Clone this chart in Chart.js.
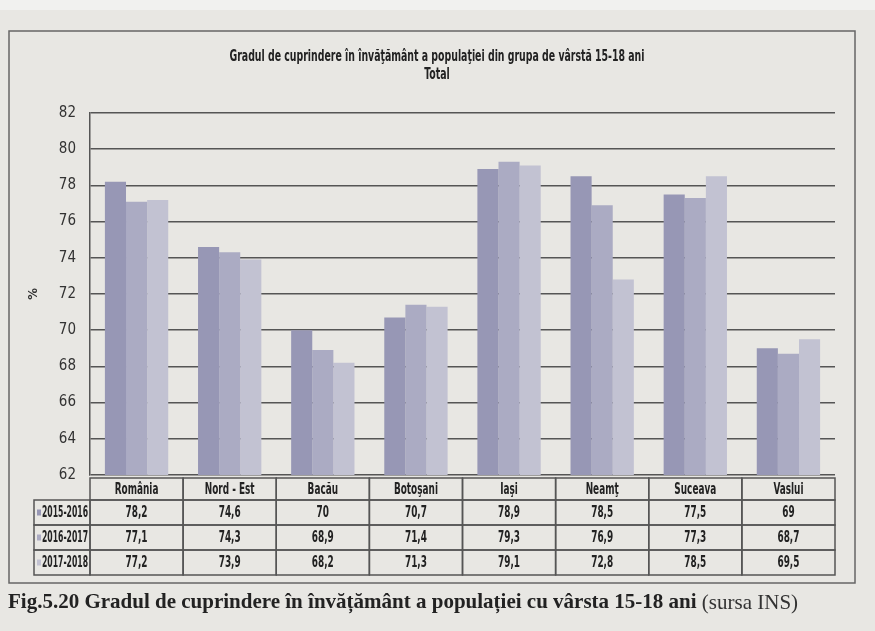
<!DOCTYPE html>
<html>
<head>
<meta charset="utf-8">
<script src="https://cdn.jsdelivr.net/npm/chart.js@4"></script>
<style>
  html, body { margin: 0; padding: 0; background: #e8e7e3; }
  #wrap { width: 875px; height: 631px; position: relative; }
</style>
</head>
<body>
<div id="wrap"><canvas id="chart" width="875" height="631"></canvas></div>
<script>
const categories = ["România", "Nord - Est", "Bacău", "Botoşani", "Iaşi", "Neamţ", "Suceava", "Vaslui"];
const seriesNames = ["2015-2016", "2016-2017", "2017-2018"];
const values2015 = [78.2, 74.6, 70, 70.7, 78.9, 78.5, 77.5, 69];
const values2016 = [77.1, 74.3, 68.9, 71.4, 79.3, 76.9, 77.3, 68.7];
const values2017 = [77.2, 73.9, 68.2, 71.3, 79.1, 72.8, 78.5, 69.5];
const seriesColors = ["#9797b5", "#ababc3", "#c2c2d2"];
const yTicks = [62, 64, 66, 68, 70, 72, 74, 76, 78, 80, 82];
const titleLines = ["Gradul de cuprindere în învăţământ a populaţiei din grupa de vârstă 15-18 ani", "Total"];

const narrow = "'DejaVu Sans Condensed', 'Liberation Sans', sans-serif";
const allValues = [values2015, values2016, values2017];

// text ingust (fontul Arial Narrow nu exista aici)
function narrowText(ctx, text, x, y, sx) {
  ctx.save();
  ctx.translate(x, y);
  ctx.scale(sx, 1);
  ctx.fillText(text, 0, 0);
  ctx.restore();
}

// fundal, chenar, titlu, tabel de date si legenda
const paperPlugin = {
  id: "paper",
  beforeDraw(chart) {
    const ctx = chart.ctx;
    ctx.save();
    ctx.fillStyle = "#e8e7e3";
    ctx.fillRect(0, 0, chart.width, chart.height);
    ctx.fillStyle = "#f1f1ef";
    ctx.fillRect(0, 0, chart.width, 10);
    ctx.strokeStyle = "#666";
    ctx.lineWidth = 1.5;
    ctx.strokeRect(9, 31, 846, 552);
    // titlu
    ctx.fillStyle = "#222";
    ctx.textAlign = "center";
    ctx.textBaseline = "middle";
    ctx.font = "bold 16px " + narrow;
    const w0 = ctx.measureText(titleLines[0]).width;
    const sx = 415 / w0;
    narrowText(ctx, titleLines[0], 437, 57, sx);
    narrowText(ctx, titleLines[1], 437, 75, sx);
    ctx.restore();
  },
  afterDraw(chart) {
    const ctx = chart.ctx;
    const x = chart.scales.x;
    const area = chart.chartArea;
    const n = categories.length;
    const colW = (area.right - area.left) / n;
    const top = area.bottom + 3;
    const headH = 22;
    const rowH = 25;
    const legLeft = 34;
    const sx = 0.66;
    ctx.save();
    ctx.strokeStyle = "#555";
    ctx.lineWidth = 1.5;
    ctx.fillStyle = "#222";
    ctx.textAlign = "center";
    ctx.textBaseline = "middle";
    ctx.font = "bold 15px " + narrow;
    // randul cu categorii
    for (let i = 0; i < n; i++) {
      const cx = x.getPixelForValue(i);
      ctx.strokeRect(cx - colW / 2, top, colW, headH);
      narrowText(ctx, categories[i], cx, top + headH / 2 + 1, sx);
    }
    // randurile cu valori
    for (let s = 0; s < seriesNames.length; s++) {
      const ry = top + headH + s * rowH;
      ctx.strokeRect(legLeft, ry, area.left - legLeft, rowH);
      ctx.fillStyle = seriesColors[s];
      ctx.fillRect(legLeft + 3, ry + rowH / 2 - 3, 4, 6);
      ctx.fillStyle = "#222";
      ctx.textAlign = "left";
      const lw = ctx.measureText(seriesNames[s]).width;
      narrowText(ctx, seriesNames[s], legLeft + 8, ry + rowH / 2 + 1, 46 / lw);
      ctx.textAlign = "center";
      for (let i = 0; i < n; i++) {
        const cx = x.getPixelForValue(i);
        ctx.strokeRect(cx - colW / 2, ry, colW, rowH);
        narrowText(ctx, String(allValues[s][i]).replace(".", ","), cx, ry + rowH / 2 + 1, sx);
      }
    }
    // legenda figurii
    const capY = 603;
    ctx.textAlign = "left";
    ctx.font = "bold 21px 'Liberation Serif', 'DejaVu Serif', serif";
    const cap = "Fig.5.20 Gradul de cuprindere în învățământ a populației cu vârsta 15-18 ani";
    ctx.fillText(cap, 8, capY);
    const w = ctx.measureText(cap + " ").width;
    ctx.font = "21px 'Liberation Serif', 'DejaVu Serif', serif";
    ctx.fillStyle = "#333";
    ctx.fillText("(sursa INS)", 8 + w, capY);
    ctx.restore();
  }
};

new Chart(document.getElementById("chart"), {
  type: "bar",
  data: {
    labels: categories,
    datasets: seriesNames.map((name, s) => ({
      label: name,
      data: allValues[s],
      backgroundColor: seriesColors[s],
      borderWidth: 0,
      barPercentage: 1.0,
      categoryPercentage: 0.68
    }))
  },
  options: {
    responsive: false,
    animation: false,
    layout: { padding: { left: 0, right: 40, top: 113, bottom: 0 } },
    plugins: {
      legend: { display: false },
      tooltip: { enabled: false },
      title: { display: false }
    },
    scales: {
      x: {
        ticks: { display: false },
        grid: { display: false },
        border: { display: false },
        afterFit(scale) { scale.height = 156; }
      },
      y: {
        min: 62,
        max: 82,
        afterBuildTicks(scale) { scale.ticks = yTicks.map(v => ({ value: v })); },
        ticks: {
          color: "#333",
          padding: 14,
          font: { family: narrow, size: 15 }
        },
        grid: { color: "#555", lineWidth: 1.5, tickLength: 0 },
        border: { display: true, color: "#555", width: 1.5 },
        title: {
          display: true,
          text: "%",
          color: "#333",
          font: { family: narrow, size: 13, weight: "bold" },
          padding: { top: 26, bottom: 0 }
        },
        afterFit(scale) { scale.width = 90; }
      }
    }
  },
  plugins: [paperPlugin]
});
</script>
</body>
</html>
